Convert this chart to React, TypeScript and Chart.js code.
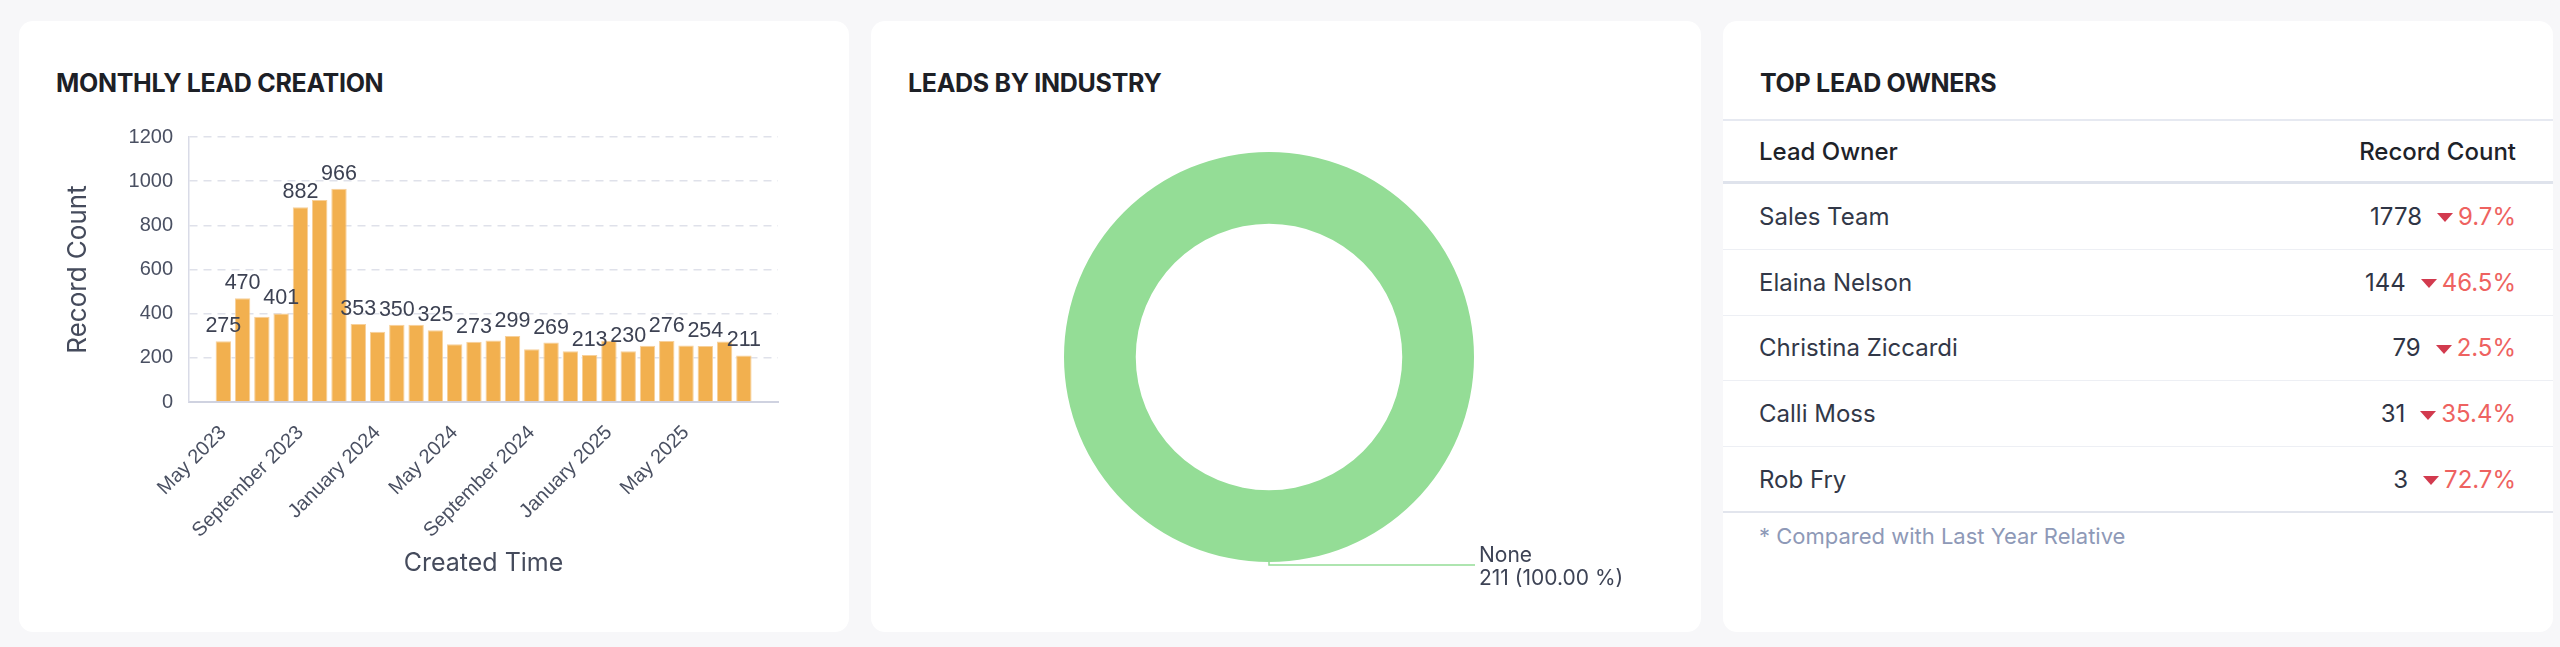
import React, { useEffect, useRef } from 'react';
import { Chart, registerables } from 'chart.js';

Chart.register(...registerables);

// ---------- DATA ----------
const months = [
  'May 2023', 'June 2023', 'July 2023', 'August 2023', 'September 2023', 'October 2023',
  'November 2023', 'December 2023', 'January 2024', 'February 2024', 'March 2024', 'April 2024',
  'May 2024', 'June 2024', 'July 2024', 'August 2024', 'September 2024', 'October 2024',
  'November 2024', 'December 2024', 'January 2025', 'February 2025', 'March 2025', 'April 2025',
  'May 2025', 'June 2025', 'July 2025', 'August 2025',
];
const leadCounts = [
  275, 470, 386, 401, 882, 915, 966, 353, 318, 350, 350, 325, 262, 273,
  279, 299, 239, 269, 230, 213, 277, 230, 255, 276, 256, 254, 274, 211,
];
const monthTickIndex = [0, 4, 8, 12, 16, 20, 24];
const yMin = 0;
const yMax = 1200;
const yStep = 200;

const industryLabels = ['None'];
const industryCounts = [211];
const industryColors = ['#94DD96'];

const ownerNames = ['Sales Team', 'Elaina Nelson', 'Christina Ziccardi', 'Calli Moss', 'Rob Fry'];
const ownerCounts = [1778, 144, 79, 31, 3];
const ownerChange = ['9.7%', '46.5%', '2.5%', '35.4%', '72.7%'];

// ---------- STYLE CONSTANTS ----------
const NUM_FONT = '"Liberation Sans", Arial, Helvetica, sans-serif';
const UI_FONT = 'Inter, "Noto Sans", sans-serif';
const AXIS_TEXT = '#4a5062';

const barLabelPlugin = {
  id: 'barLabels',
  afterDatasetsDraw(chart: any) {
    const ctx = chart.ctx;
    const meta = chart.getDatasetMeta(0);
    ctx.save();
    ctx.font = `21.5px ${NUM_FONT}`;
    ctx.fillStyle = '#3d4253';
    ctx.textAlign = 'center';
    ctx.textBaseline = 'alphabetic';
    const boxes: { l: number; r: number; t: number; b: number }[] = [];
    meta.data.forEach((el: any, i: number) => {
      const text = String(leadCounts[i]);
      const w = ctx.measureText(text).width;
      const base = el.y - 9;
      const box = { l: el.x - w / 2, r: el.x + w / 2, t: base - 18, b: base + 6 };
      const hit = boxes.some((o) => box.l < o.r && box.r > o.l && box.t < o.b && box.b > o.t);
      if (hit) return;
      boxes.push(box);
      ctx.fillText(text, el.x, base);
    });
    ctx.restore();
  },
};

function BarChart() {
  const ref = useRef<HTMLCanvasElement | null>(null);
  useEffect(() => {
    if (!ref.current) return;
    const chart = new Chart(ref.current, {
      type: 'bar',
      data: {
        datasets: [
          {
            data: leadCounts.map((v, i) => ({ x: i, y: v })),
            backgroundColor: '#F2B04F',
            borderColor: '#F7D09A',
            borderWidth: 1,
            categoryPercentage: 1,
            barPercentage: 0.8,
          } as any,
        ],
      },
      options: {
        animation: false,
        responsive: false,
        layout: { padding: { left: 0, top: 20, right: 71, bottom: 0 } },
        plugins: { legend: { display: false }, tooltip: { enabled: false } },
        scales: {
          x: {
            type: 'linear',
            offset: false,
            min: -1.78,
            max: 28.77,
            grid: { display: false, drawTicks: false, offset: false },
            border: { display: true, color: '#cfd2e0', width: 2 },
            afterBuildTicks: (s: any) => {
              s.ticks = monthTickIndex.map((v) => ({ value: v }));
            },
            afterFit: (s: any) => {
              s.height = 176;
            },
            ticks: {
              autoSkip: false,
              minRotation: 45,
              maxRotation: 45,
              padding: 19,
              color: AXIS_TEXT,
              font: { family: NUM_FONT, size: 20 },
              callback: (v: any) => months[v] ?? '',
            },
            title: {
              display: true,
              text: 'Created Time',
              color: '#454b5c',
              font: { family: UI_FONT, size: 25 },
              padding: { top: 0, bottom: 0 },
            },
          } as any,
          y: {
            min: yMin,
            max: yMax,
            grid: { color: '#dfe1ea', lineWidth: 1.5, drawTicks: false },
            border: { display: true, color: '#d9dbe7', width: 1.5, dash: [8, 6] },
            afterFit: (s: any) => {
              s.width = 170;
            },
            ticks: {
              stepSize: yStep,
              padding: 16,
              color: AXIS_TEXT,
              font: { family: NUM_FONT, size: 20 },
              callback: (v: any) => String(v),
            },
            title: {
              display: true,
              text: 'Record Count',
              color: '#454b5c',
              font: { family: UI_FONT, size: 26 },
              padding: { top: 44, bottom: 0 },
            },
          } as any,
        },
      },
      plugins: [barLabelPlugin],
    });
    return () => chart.destroy();
  }, []);
  return <canvas ref={ref} width={830} height={469} style={{ position: 'absolute', left: 0, top: 88 }} />;
}

const leaderPlugin = {
  id: 'leader',
  afterDatasetsDraw(chart: any) {
    const ctx = chart.ctx;
    const meta = chart.getDatasetMeta(0);
    const total = industryCounts.reduce((a, b) => a + b, 0);
    ctx.save();
    meta.data.forEach((arc: any, i: number) => {
      const { x, y, startAngle, endAngle, outerRadius } = arc.getProps(
        ['x', 'y', 'startAngle', 'endAngle', 'outerRadius'],
        true
      );
      const mid = (startAngle + endAngle) / 2;
      const px = x + Math.cos(mid) * outerRadius;
      const py = y + Math.sin(mid) * outerRadius;
      const ly = py + 3;
      const ex = x + outerRadius + 1;
      ctx.strokeStyle = industryColors[i];
      ctx.lineWidth = 1.5;
      ctx.beginPath();
      ctx.moveTo(px, py);
      ctx.lineTo(px, ly);
      ctx.lineTo(ex, ly);
      ctx.stroke();
      ctx.fillStyle = '#3d4355';
      ctx.font = `21px ${UI_FONT}`;
      ctx.textAlign = 'left';
      ctx.textBaseline = 'alphabetic';
      ctx.fillText(industryLabels[i], ex + 4, ly - 3);
      const pct = ((industryCounts[i] / total) * 100).toFixed(2);
      ctx.fillText(`${industryCounts[i]} (${pct} %)`, ex + 4, ly + 20);
    });
    ctx.restore();
  },
};

function DonutChart() {
  const ref = useRef<HTMLCanvasElement | null>(null);
  useEffect(() => {
    if (!ref.current) return;
    const chart = new Chart(ref.current, {
      type: 'doughnut',
      data: {
        labels: industryLabels,
        datasets: [{ data: industryCounts, backgroundColor: industryColors, borderWidth: 0 }],
      },
      options: {
        animation: false,
        responsive: false,
        cutout: '65%',
        layout: { padding: { left: 193, right: 227, top: 52, bottom: 58 } },
        plugins: { legend: { display: false }, tooltip: { enabled: false } },
      },
      plugins: [leaderPlugin],
    });
    return () => chart.destroy();
  }, []);
  return <canvas ref={ref} width={830} height={520} style={{ position: 'absolute', left: 0, top: 79 }} />;
}

function Card({ left, title, children }: { left: number; title: string; children?: any }) {
  return (
    <div
      style={{
        position: 'absolute',
        left,
        top: 21,
        width: 830,
        height: 611,
        background: '#ffffff',
        borderRadius: 14,
        overflow: 'hidden',
      }}
    >
      <div
        style={{
          position: 'absolute',
          left: 37,
          top: 47,
          lineHeight: '30px',
          fontSize: 25,
          fontWeight: 700,
          letterSpacing: -0.3,
          color: '#1d2026',
          fontFamily: UI_FONT,
          whiteSpace: 'nowrap',
        }}
      >
        {title}
      </div>
      {children}
    </div>
  );
}

function OwnersTable() {
  const rowTop = 163;
  const rowH = 65.8;
  return (
    <div style={{ position: 'absolute', left: 0, top: 0, width: 830, height: 611, fontFamily: UI_FONT }}>
      <div style={{ position: 'absolute', left: 0, right: 0, top: 98, height: 2, background: '#e6e9f1' }} />
      <div
        style={{
          position: 'absolute',
          left: 36,
          right: 37,
          top: 100,
          height: 60,
          display: 'flex',
          alignItems: 'center',
          justifyContent: 'space-between',
          fontSize: 24,
          fontWeight: 500,
          color: '#1e2229',
        }}
      >
        <span>Lead Owner</span>
        <span>Record Count</span>
      </div>
      <div style={{ position: 'absolute', left: 0, right: 0, top: 160, height: 3, background: '#dfe3ec' }} />
      {ownerNames.map((name, i) => (
        <div
          key={name}
          style={{
            position: 'absolute',
            left: 0,
            right: 0,
            top: rowTop + i * rowH,
            height: rowH,
            boxSizing: 'border-box',
            borderBottom: i === ownerNames.length - 1 ? '2px solid #e2e5ed' : '1.5px solid #edeff4',
            display: 'flex',
            alignItems: 'center',
            justifyContent: 'space-between',
            padding: '0 37px 0 36px',
            fontSize: 24,
            color: '#323848',
          }}
        >
          <span>{name}</span>
          <span style={{ display: 'flex', alignItems: 'center' }}>
            <span style={{ color: '#2f3545' }}>{ownerCounts[i]}</span>
            <span
              style={{
                display: 'inline-block',
                width: 0,
                height: 0,
                marginLeft: 15,
                marginRight: 5,
                marginTop: 3,
                borderLeft: '8.5px solid transparent',
                borderRight: '8.5px solid transparent',
                borderTop: '9px solid #d23a4e',
              }}
            />
            <span style={{ color: '#ee6260' }}>{ownerChange[i]}</span>
          </span>
        </div>
      ))}
      <div
        style={{
          position: 'absolute',
          left: 36,
          top: 501,
          lineHeight: '28px',
          fontSize: 22,
          color: '#8e99b7',
          whiteSpace: 'nowrap',
        }}
      >
        * Compared with Last Year Relative
      </div>
    </div>
  );
}

export default function App() {
  return (
    <div
      style={{
        position: 'absolute',
        left: 0,
        top: 0,
        width: 2560,
        height: 647,
        background: '#f7f7f9',
        overflow: 'hidden',
        fontFamily: UI_FONT,
      }}
    >
      <Card left={19} title="MONTHLY LEAD CREATION">
        <BarChart />
      </Card>
      <Card left={871} title="LEADS BY INDUSTRY">
        <DonutChart />
      </Card>
      <Card left={1723} title="TOP LEAD OWNERS">
        <OwnersTable />
      </Card>
    </div>
  );
}
